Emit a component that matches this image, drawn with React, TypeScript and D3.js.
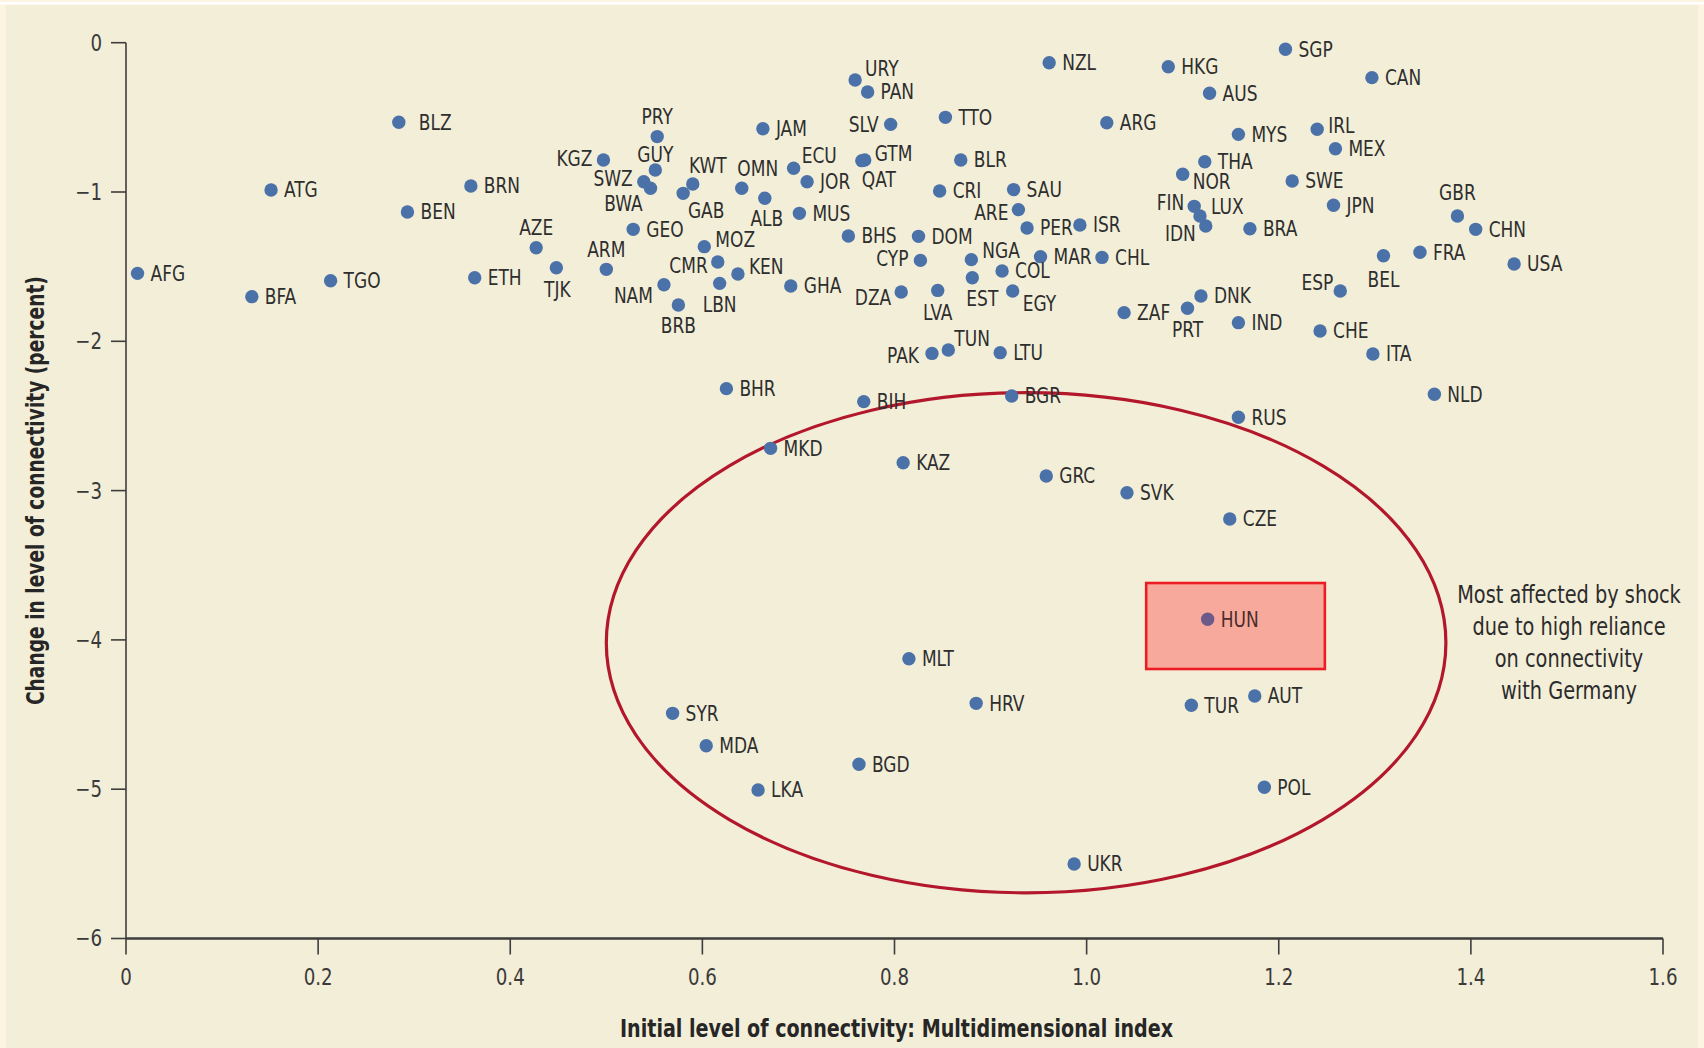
import React from "react";
import * as d3 from "d3";

// ---- Data ----
const countries = [
  "AFG","BFA","ATG","TGO","BLZ","BEN","BRN","ETH","AZE","TJK",
  "KGZ","PRY","GUY","SWZ","BWA","KWT","GAB","OMN","ALB","JAM",
  "ECU","JOR","MUS","GEO","ARM","MOZ","CMR","KEN","LBN","NAM",
  "BRB","GHA","URY","PAN","SLV","GTM","QAT","BHS","TTO","BLR",
  "CRI","DOM","CYP","DZA","LVA","NGA","EST","SAU","ARE","PER",
  "COL","EGY","ISR","MAR","CHL","NZL","ARG","ZAF","HKG","SGP",
  "CAN","AUS","MYS","IRL","MEX","THA","NOR","SWE","JPN","FIN",
  "LUX","IDN","BRA","GBR","CHN","BEL","FRA","USA","ESP","DNK",
  "PRT","IND","CHE","PAK","TUN","LTU","BHR","BIH","BGR","MKD",
  "KAZ","GRC","SVK","ITA","NLD","RUS","CZE","HUN","TUR","AUT",
  "MLT","HRV","SYR","MDA","BGD","LKA","POL","UKR",
];
const initialConnectivity = [
  0.012,0.131,0.151,0.213,0.284,0.293,0.359,0.363,0.427,0.448,
  0.497,0.553,0.551,0.539,0.546,0.590,0.580,0.641,0.665,0.663,
  0.695,0.709,0.701,0.528,0.500,0.602,0.616,0.637,0.618,0.560,
  0.575,0.692,0.759,0.772,0.796,0.769,0.766,0.752,0.853,0.869,
  0.847,0.825,0.827,0.807,0.845,0.880,0.881,0.924,0.929,0.938,
  0.912,0.923,0.993,0.952,1.016,0.961,1.021,1.039,1.085,1.207,
  1.297,1.128,1.158,1.240,1.259,1.123,1.100,1.214,1.257,1.112,
  1.118,1.124,1.170,1.386,1.405,1.309,1.347,1.445,1.264,1.119,
  1.105,1.158,1.243,0.839,0.856,0.910,0.625,0.768,0.922,0.671,
  0.809,0.958,1.042,1.298,1.362,1.158,1.149,1.126,1.109,1.175,
  0.815,0.885,0.569,0.604,0.763,0.658,1.185,0.987,
];
const changeInConnectivity = [
  -1.545,-1.701,-0.987,-1.594,-0.533,-1.134,-0.960,-1.574,-1.373,-1.507,
  -0.786,-0.629,-0.853,-0.931,-0.975,-0.946,-1.009,-0.975,-1.042,-0.576,
  -0.841,-0.931,-1.143,-1.250,-1.518,-1.366,-1.469,-1.549,-1.612,-1.621,
  -1.757,-1.630,-0.250,-0.330,-0.547,-0.786,-0.790,-1.295,-0.500,-0.786,
  -0.993,-1.297,-1.458,-1.670,-1.659,-1.453,-1.574,-0.984,-1.118,-1.241,
  -1.529,-1.663,-1.221,-1.433,-1.438,-0.134,-0.536,-1.808,-0.161,-0.044,
  -0.234,-0.339,-0.614,-0.580,-0.710,-0.797,-0.881,-0.926,-1.089,-1.096,
  -1.161,-1.228,-1.246,-1.161,-1.250,-1.427,-1.404,-1.482,-1.663,-1.697,
  -1.779,-1.875,-1.931,-2.081,-2.058,-2.076,-2.317,-2.404,-2.366,-2.717,
  -2.813,-2.902,-3.014,-2.085,-2.355,-2.509,-3.190,-3.862,-4.438,-4.376,
  -4.126,-4.425,-4.492,-4.709,-4.833,-5.005,-4.987,-5.501,
];
const xTicks = [0, 0.2, 0.4, 0.6, 0.8, 1.0, 1.2, 1.4, 1.6];
const xTickLabels = ["0", "0.2", "0.4", "0.6", "0.8", "1.0", "1.2", "1.4", "1.6"];
const yTicks = [0, -1, -2, -3, -4, -5, -6];
const yTickLabels = ["0", "\u22121", "\u22122", "\u22123", "\u22124", "\u22125", "\u22126"];
const xTitle = "Initial level of connectivity: Multidimensional index";
const yTitle = "Change in level of connectivity (percent)";
const annotationLines = ["Most affected by shock", "due to high reliance", "on connectivity", "with Germany"];
const highlighted = "HUN";
// ellipse of the most affected group: centre (x, y) and radii in data units
const ellipseCenter = [0.937, -4.019];
const ellipseRadii = [0.437, 1.675];
// highlight box in data units: [x0, x1], [y0, y1]
const boxX = [1.062, 1.248];
const boxY = [-3.619, -4.195];

// label placement (anchor, dx, dy in px relative to dot) — default is right
const labelPlacement: Record<string, [string, number, number]> = {
  BLZ: ["start", 20, 0], AZE: ["middle", 0, -20], TJK: ["middle", 1, 22],
  KGZ: ["end", -11, -1], PRY: ["middle", 0, -20], GUY: ["middle", 0, -15],
  SWZ: ["end", -11, -3], BWA: ["middle", -27, 15], KWT: ["middle", 15, -18],
  GAB: ["middle", 23, 17], OMN: ["middle", 16, -20], ALB: ["middle", 2, 20],
  ECU: ["start", 8, -13], QAT: ["start", 0, 19], GTM: ["start", 10, -6],
  ARM: ["middle", 0, -20], MOZ: ["start", 11, -7], CMR: ["end", -10, 4],
  KEN: ["start", 11, -7], LBN: ["middle", 0, 21], BRB: ["middle", 0, 21],
  NAM: ["end", -11, 11], URY: ["start", 10, -11], SLV: ["end", -12, 0],
  CYP: ["end", -12, -2], DZA: ["end", -10, 6], LVA: ["middle", 0, 22],
  NGA: ["start", 11, -9], EST: ["middle", 10, 21], ARE: ["end", -10, 3],
  EGY: ["start", 10, 13], IRL: ["start", 11, -4], NOR: ["start", 10, 7],
  FIN: ["end", -10, -4], LUX: ["start", 11, -9], IDN: ["end", -10, 8],
  GBR: ["middle", 0, -23], BEL: ["middle", 0, 24], ESP: ["end", -7, -8],
  PRT: ["middle", 0, 21], PAK: ["end", -13, 2], TUN: ["start", 6, -11],
};

const W = 1704;
const H = 1048;
const FONT = "'Liberation Sans Narrow','DejaVu Sans Condensed','Roboto Condensed','Arial Narrow',sans-serif";
const NARROW = 0.88;

export default function App() {
  const x = d3.scaleLinear().domain([0, 1.6]).range([126, 1663]);
  const y = d3.scaleLinear().domain([0, -6]).range([42.7, 938.5]);
  const points = countries.map((c, i) => ({ c, x: initialConnectivity[i], y: changeInConnectivity[i] }));
  const bx0 = x(boxX[0]), bx1 = x(boxX[1]), by0 = y(boxY[0]), by1 = y(boxY[1]);
  const ecx = x(ellipseCenter[0]), ecy = y(ellipseCenter[1]);
  const erx = x(ellipseCenter[0] + ellipseRadii[0]) - ecx;
  const ery = y(ellipseCenter[1] - ellipseRadii[1]) - ecy;
  const axisColor = "#3d3d3d";
  const textColor = "#2e2e2e";
  return (
    <div style={{ position: "absolute", left: 0, top: 0 }}>
      <svg width={W} height={H} style={{ display: "block" }} fontFamily={FONT}>
        <rect x={0} y={0} width={W} height={H} fill="#fdf5e1" />
        <rect x={0} y={2} width={W} height={2.5} fill="#ffffff" />
        <rect x={6} y={5} width={1692} height={H - 5} fill="#f3eed8" />

        {/* highlight box */}
        <rect x={bx0} y={by0} width={bx1 - bx0} height={by1 - by0} fill="#f7a99b" stroke="#ec1c24" strokeWidth={2.6} />

        {/* y axis */}
        <line x1={x(0)} x2={x(0)} y1={y(0)} y2={y(-6)} stroke={axisColor} strokeWidth={1.6} />
        {yTicks.map((t, i) => (
          <g key={"yt" + i}>
            <line x1={x(0) - 15} x2={x(0)} y1={y(t)} y2={y(t)} stroke={axisColor} strokeWidth={1.6} />
            <text transform={`translate(${x(0) - 24},${y(t)}) scale(${NARROW},1)`} textAnchor="end"
              dominantBaseline="central" fontSize={23} fill="#3a3a3a">
              {yTickLabels[i]}
            </text>
          </g>
        ))}
        {/* x axis */}
        <line x1={x(0)} x2={x(1.6)} y1={y(-6)} y2={y(-6)} stroke={axisColor} strokeWidth={2.4} />
        {xTicks.map((t, i) => (
          <g key={"xt" + i}>
            <line x1={x(t)} x2={x(t)} y1={y(-6)} y2={y(-6) + 16} stroke={axisColor} strokeWidth={1.6} />
            <text transform={`translate(${x(t)},${y(-6) + 39}) scale(${NARROW},1)`} textAnchor="middle"
              dominantBaseline="central" fontSize={23} fill="#3a3a3a">
              {xTickLabels[i]}
            </text>
          </g>
        ))}
        <text x={(x(0) + x(1.6)) / 2 + 2} y={1028} textAnchor="middle" dominantBaseline="central" fontSize={25}
          fontWeight="bold" fill="#262626" textLength={553} lengthAdjust="spacingAndGlyphs">
          {xTitle}
        </text>
        <text transform={`translate(35, ${(y(0) + y(-6)) / 2}) rotate(-90)`} textAnchor="middle" dominantBaseline="central"
          fontSize={25} fontWeight="bold" fill="#262626" textLength={429} lengthAdjust="spacingAndGlyphs">
          {yTitle}
        </text>

        {/* ellipse */}
        <ellipse cx={ecx} cy={ecy} rx={erx} ry={ery} fill="none" stroke="#b3172c" strokeWidth={3.2} />

        {/* points */}
        {points.map((p) => (
          <circle key={"p" + p.c} cx={x(p.x)} cy={y(p.y)} r={6.7}
            fill={p.c === highlighted ? "#6b5a8a" : "#4a72a8"} />
        ))}
        {points.map((p) => {
          const pl = labelPlacement[p.c] || ["start", 13, 0];
          return (
            <text key={"l" + p.c} transform={`translate(${x(p.x) + pl[1]},${y(p.y) + pl[2]}) scale(${NARROW},1)`}
              textAnchor={pl[0]} dominantBaseline="central" fontSize={21.5}
              fill={p.c === highlighted ? "#4a2c2c" : textColor}>
              {p.c}
            </text>
          );
        })}

        {/* annotation */}
        {annotationLines.map((l, i) => (
          <text key={"a" + i} transform={`translate(1569,${594 + i * 32}) scale(0.86,1)`} textAnchor="middle"
            dominantBaseline="central" fontSize={25} fill="#2b2b2b">
            {l}
          </text>
        ))}
      </svg>
    </div>
  );
}
